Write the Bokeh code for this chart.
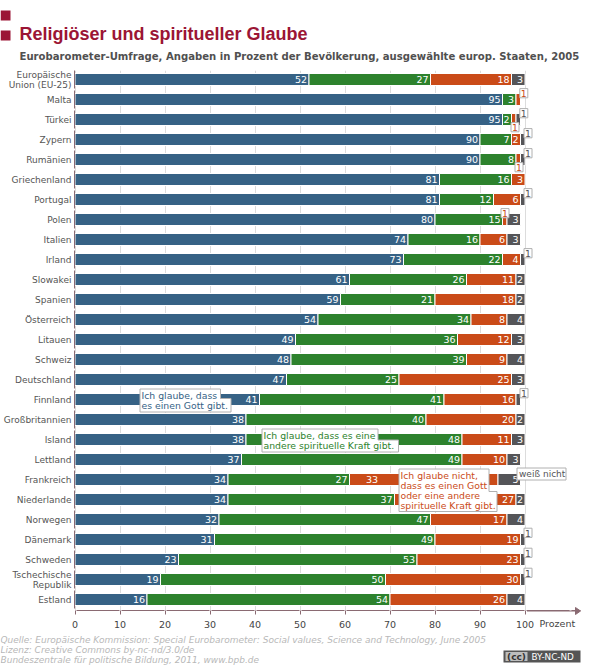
from bokeh.plotting import figure
from bokeh.models import Range1d, FixedTicker
from bokeh.core.properties import value
from bokeh.embed import file_html
from bokeh.resources import INLINE

countries = ["Europäische\nUnion (EU-25)", "Malta", "Türkei", "Zypern", "Rumänien", "Griechenland", "Portugal", "Polen",
             "Italien", "Irland", "Slowakei", "Spanien", "Österreich", "Litauen", "Schweiz", "Deutschland", "Finnland",
             "Großbritannien", "Island", "Lettland", "Frankreich", "Niederlande", "Norwegen", "Dänemark", "Schweden",
             "Tschechische\nRepublik", "Estland"]
gott = [52, 95, 95, 90, 90, 81, 81, 80, 74, 73, 61, 59, 54, 49, 48, 47, 41, 38, 38, 37, 34, 34, 32, 31, 23, 19, 16]
kraft = [27, 3, 2, 7, 8, 16, 12, 15, 16, 22, 26, 21, 34, 36, 39, 25, 41, 40, 48, 49, 27, 37, 47, 49, 53, 50, 54]
nicht = [18, 1, 1, 2, 1, 3, 6, 1, 6, 4, 11, 18, 8, 12, 9, 25, 16, 20, 11, 10, 33, 27, 17, 19, 23, 30, 26]
weiss = [3, 0, 1, 1, 1, 0, 1, 3, 3, 1, 2, 2, 4, 3, 4, 3, 1, 2, 3, 3, 5, 2, 4, 1, 1, 1, 4]
x_ticks = [0, 10, 20, 30, 40, 50, 60, 70, 80, 90, 100]

BLUE, GREEN, ORANGE, GRAY = "#366285", "#2d822d", "#ca4b18", "#555558"
MAROON = "#9b1535"
AXIS = "#8a6a72"
FONT = "DejaVu Sans"

def px(x):
    return (x - 74.5) / 4.5

def py(y):
    return (y - 79) / 20

p = figure(width=590, height=670, output_backend="svg", toolbar_location=None,
           x_range=Range1d(px(74), px(580)), y_range=Range1d(py(610), py(70)),
           min_border_left=74, min_border_right=10, min_border_top=70, min_border_bottom=60,
           outline_line_color=None, background_fill_color=None, border_fill_color=None)
p.styles = {"position": "absolute", "left": "0px", "top": "0px"}

rows = list(range(len(countries)))
p.ygrid.visible = False
p.xgrid.ticker = FixedTicker(ticks=x_ticks)
p.xgrid.grid_line_color = "#dcdcdc"

p.xaxis.ticker = FixedTicker(ticks=x_ticks)
p.xaxis.major_tick_in = 0
p.xaxis.major_tick_out = 4
p.xaxis.minor_tick_line_color = None
p.xaxis.major_tick_line_color = AXIS
p.xaxis.axis_line_color = AXIS
p.xaxis.axis_line_dash = "43 2"
p.xaxis.axis_line_dash_offset = 43
p.xaxis.major_label_text_font = FONT
p.xaxis.major_label_text_font_size = "9.5px"
p.xaxis.major_label_text_color = "#444444"
p.xaxis.major_label_standoff = 6

p.yaxis.ticker = FixedTicker(ticks=rows)
p.yaxis.major_label_overrides = {i: c for i, c in enumerate(countries)}
p.yaxis.major_tick_in = 0
p.yaxis.major_tick_out = 0
p.yaxis.minor_tick_in = 0
p.yaxis.minor_tick_out = 0
p.yaxis.major_tick_line_color = None
p.yaxis.minor_tick_line_color = None
p.yaxis.axis_line_color = AXIS
p.yaxis.axis_line_dash = "18 2"
p.yaxis.major_label_text_font = FONT
p.yaxis.major_label_text_font_size = "9px"
p.yaxis.major_label_text_color = "#555555"
p.yaxis.major_label_text_line_height = 1.0
p.yaxis.major_label_standoff = 3

left = [0] * len(rows)
for vals, col in [(gott, BLUE), (kraft, GREEN), (nicht, ORANGE), (weiss, GRAY)]:
    right = [a + b for a, b in zip(left, vals)]
    keep = [i for i in rows if vals[i] > 0]
    p.hbar(y=[rows[i] for i in keep], left=[left[i] for i in keep], right=[right[i] for i in keep],
           height=0.6, fill_color=col, line_color="white", line_width=1)
    shown = [i for i in keep if vals[i] > 1]
    offs = [-118 - 2 if (col == ORANGE and countries[i] == "Frankreich") else -2 for i in shown]
    p.text(x=[right[i] for i in shown], y=[rows[i] for i in shown], text=[str(vals[i]) for i in shown],
           x_offset=offs, text_color="white", text_align="right", text_baseline="middle",
           text_font=value(FONT), text_font_size="9.5px")
    left = right

BORDER = "#b0b0b0"

def poly(pts):
    p.patch([px(a) for a, b in pts], [py(b) for a, b in pts], fill_color="white", line_color=BORDER, line_width=1)

def txt(x, y, s, col, size="9.3px", align="left"):
    p.text(x=[px(x)], y=[py(y)], text=[s], text_color=col, text_align=align, text_baseline="middle",
           text_font=value(FONT), text_font_size=size)

ones = [(523.3, 92.7, ORANGE), (523.3, 112.7, GRAY), (514.5, 126.7, ORANGE), (527.5, 132.7, GRAY),
        (527.5, 152.7, GRAY), (518.5, 166.7, ORANGE), (527.5, 192.7, GRAY), (504.5, 212.7, ORANGE),
        (527.5, 252.7, GRAY), (523.5, 392.7, GRAY), (527.5, 532.3, GRAY), (527.5, 552.3, GRAY), (527.5, 572.3, GRAY)]
for cx, cy, col in ones:
    poly([(cx - 4, cy - 4.6), (cx + 4, cy - 4.6), (cx + 4, cy + 4.6), (cx - 4, cy + 4.6)])
    txt(cx, cy + 0.3, "1", col, align="center")

poly([(139.5, 388.5), (220, 388.5), (220, 398), (230.5, 398), (230.5, 411.5), (139.5, 411.5)])
txt(141, 395, "Ich glaube, dass", BLUE)
txt(141, 405, "es einen Gott gibt.", BLUE)

poly([(261.5, 428.5), (377.5, 428.5), (377.5, 439.5), (398, 439.5), (398, 451.5), (261.5, 451.5)])
txt(263, 435, "Ich glaube, dass es eine", GREEN)
txt(263, 445, "andere spirituelle Kraft gibt.", GREEN)

poly([(398.5, 468.5), (488.5, 468.5), (488.5, 491), (496.5, 491), (496.5, 511), (398.5, 511)])
for yy, s in zip([475, 485, 495, 505], ["Ich glaube nicht,", "dass es einen Gott", "oder eine andere", "spirituelle Kraft gibt."]):
    txt(400, yy, s, ORANGE)

poly([(516.5, 467.5), (565.5, 467.5), (565.5, 479.5), (516.5, 479.5)])
txt(518.5, 473.5, "weiß nicht", GRAY, size="9px")

# full-page figure behind the chart: heading, footer, badge, axis arrow
d = figure(width=590, height=670, output_backend="svg", toolbar_location=None,
           x_range=Range1d(0, 590), y_range=Range1d(670, 0), x_axis_type=None, y_axis_type=None,
           min_border=0, outline_line_color=None, background_fill_color="white", border_fill_color="white")
d.styles = {"position": "absolute", "left": "0px", "top": "0px"}
d.xgrid.visible = False
d.ygrid.visible = False

def lab(x, y, s, col, size="9.5px", style="normal", font=FONT, align="left"):
    d.text(x=[x], y=[y], text=[s], text_color=col, text_font_size=size, text_font_style=style,
           text_font=value(font), text_align=align, text_baseline="middle")

def box(l, r, t, b, col):
    d.quad(left=[l], right=[r], top=[t], bottom=[b], fill_color=col, line_color=None)

box(0, 10, 10, 20, MAROON)
box(0, 10, 30, 40, MAROON)
lab(19, 33.5, "Religiöser und spiritueller Glaube", MAROON, "18px", "bold", "Liberation Sans")
lab(19, 55.5, "Eurobarometer-Umfrage, Angaben in Prozent der Bevölkerung, ausgewählte europ. Staaten, 2005",
    "#505050", "10.1px", "bold")
lab(539, 623, "Prozent", "#444444")
FOOT = "#b8b8b8"
lab(0, 639, "Quelle: Europäische Kommission: Special Eurobarometer: Social values, Science and Technology, June 2005", FOOT, "9px", "italic")
lab(0, 649, "Lizenz: Creative Commons by-nc-nd/3.0/de", FOOT, "9px", "italic")
lab(0, 659, "Bundeszentrale für politische Bildung, 2011, www.bpb.de", FOOT, "9px", "italic")

box(503, 580, 650, 662, "#555555")
box(505, 527, 651.5, 660.5, "#bdbdbd")
lab(516, 656, "(cc)", "#333333", "9px", "bold", FONT, "center")
lab(531, 656, "BY-NC-ND", "white", "8.8px")

d.segment(x0=[526.5], y0=[610.5], x1=[575], y1=[610.5], line_color=AXIS, line_width=1)
d.patch([575, 580, 575], [607, 610.5, 614], fill_color=AXIS, line_color=AXIS)

open("out.html", "w").write(file_html([d, p], INLINE))
